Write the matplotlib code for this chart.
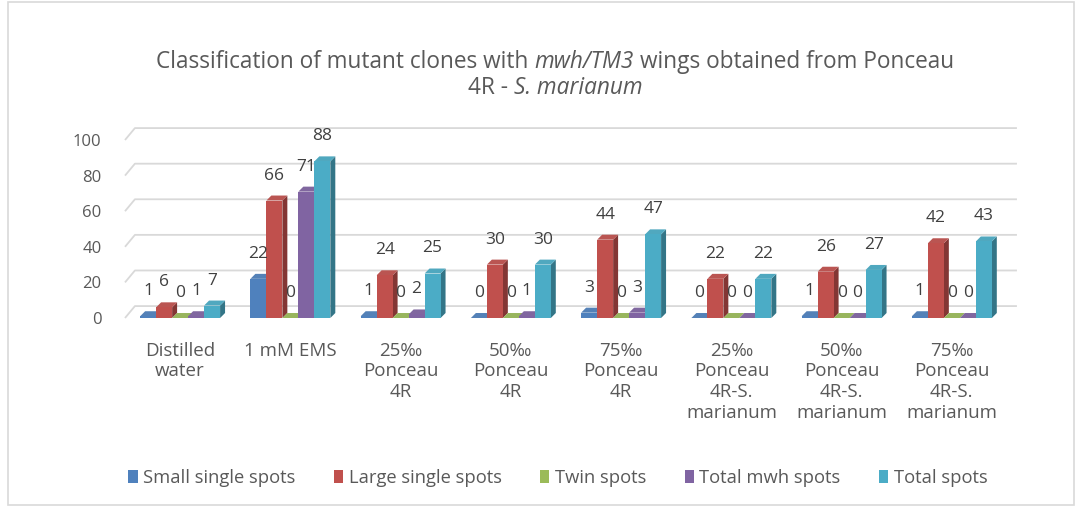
import matplotlib
matplotlib.use("Agg")
import matplotlib.pyplot as plt
from matplotlib.patches import Rectangle, Patch
import matplotlib.colors as mcolors
import numpy as np

plt.rcParams['font.family'] = ['Open Sans', 'DejaVu Sans']

# 数据
categories = ["Distilled\nwater", "1 mM EMS", "25‰\nPonceau\n4R", "50‰\nPonceau\n4R",
              "75‰\nPonceau\n4R", "25‰\nPonceau\n4R-S.\nmarianum",
              "50‰\nPonceau\n4R-S.\nmarianum", "75‰\nPonceau\n4R-S.\nmarianum"]
series_names = ["Small single spots", "Large single spots", "Twin spots",
                "Total mwh spots", "Total spots"]
small_single = [1, 22, 1, 0, 3, 0, 1, 1]
large_single = [6, 66, 24, 30, 44, 22, 26, 42]
twin = [0, 0, 0, 0, 0, 0, 0, 0]
total_mwh = [1, 71, 2, 1, 3, 0, 0, 0]
total_spots = [7, 88, 25, 30, 47, 22, 27, 43]
yticks = [0, 20, 40, 60, 80, 100]

title_line1 = [("Classification of mutant clones with", "normal"), ("mwh/TM3", "italic"),
               ("wings obtained from Ponceau", "normal")]
title_line2 = [("4R -", "normal"), ("S. marianum", "italic")]

series = [small_single, large_single, twin, total_mwh, total_spots]
colors = ["#4F81BD", "#C0504D", "#9BBB59", "#8064A2", "#4BACC6"]

W, H = 1076, 508
fig = plt.figure(figsize=(W / 100, H / 100), dpi=100)
fig.patches.append(Rectangle((8 / W, 3 / H), 1066 / W, 503 / H, transform=fig.transFigure,
                             fill=False, edgecolor="#D9D9D9", linewidth=1.2))

ax = fig.add_axes([125 / W, (H - 318) / H, 882 / W, 178 / H])
ax.set_xlim(-0.5, 7.5)
ax.set_ylim(0, 100)
for s in ax.spines.values():
    s.set_visible(False)

# 3D 偏移量（数据单位）
dx_wall, dy_wall = 0.09, 6.7
dx, dy = 0.045, 2.8
bw = 0.145

# 背景网格线
for v in yticks:
    ax.plot([-0.5, -0.5 + dx_wall, 7.5 + dx_wall], [v, v + dy_wall, v + dy_wall],
            color="#D9D9D9", lw=1.3, zorder=0, clip_on=False, solid_capstyle='butt')

x = np.arange(len(categories))
z = 1
for gi in range(len(categories)):
    for si, vals in enumerate(series):
        c = np.array(mcolors.to_rgb(colors[si]))
        side = c * 0.68
        top = np.clip(c * 0.9 + 0.05, 0, 1)
        v = vals[gi]
        xl = x[gi] + (si - 2.5) * bw
        xr = xl + bw
        ax.fill([xr, xr + dx, xr + dx, xr], [0, dy, v + dy, v], color=side, lw=0, zorder=z)
        ax.fill([xl, xr, xr + dx, xl + dx], [v, v, v + dy, v + dy], color=top, lw=0, zorder=z)
        if v > 0:
            ax.fill([xl, xr, xr, xl], [0, 0, v, v], color=c, lw=0, zorder=z)
        z += 1

# 数值标签
for si, vals in enumerate(series):
    for gi, v in enumerate(vals):
        xc = x[gi] + (si - 2) * bw
        ax.annotate(str(v), (xc, v), xytext=(0, 18), textcoords="offset points",
                    ha="center", va="center", fontsize=12.5, color="#404040", zorder=100)

ax.set_yticks(yticks)
ax.set_yticklabels([str(t) for t in yticks], fontsize=12, color="#595959")
ax.set_xticks(x)
ax.set_xticklabels(categories, fontsize=13.5, color="#595959", linespacing=1.2)
ax.tick_params(axis="y", length=0, pad=17)
ax.tick_params(axis="x", length=0, pad=17)


# 标题：正体与斜体混排，逐段测量后居中
def rich_line(parts, xc, y, size):
    renderer = fig.canvas.get_renderer()

    def width(t):
        return t.get_window_extent(renderer).width

    a = fig.text(0, 0, "xx", fontsize=size)
    b = fig.text(0, 0, "x x", fontsize=size)
    space = width(b) - width(a)
    a.remove()
    b.remove()
    texts = [fig.text(0, y, s, fontsize=size, fontstyle=st, color="#595959",
                      ha="left", va="center") for s, st in parts]
    widths = [width(t) for t in texts]
    total = sum(widths) + space * (len(parts) - 1)
    xpos = xc * W - total / 2
    for t, w in zip(texts, widths):
        t.set_x(xpos / W)
        xpos += w + space


rich_line(title_line1, 555 / W, 1 - 62 / H, 16.3)
rich_line(title_line2, 555 / W, 1 - 88 / H, 16.3)

handles = [Patch(facecolor=c, edgecolor="none") for c in colors]
fig.legend(handles, series_names, loc="center", bbox_to_anchor=(558 / W, 1 - 478 / H),
           ncol=5, frameon=False, fontsize=13.2, handlelength=0.5, handleheight=0.75,
           handletextpad=0.3, columnspacing=2.1, labelcolor="#595959")

fig.savefig("out.png", dpi=100)
